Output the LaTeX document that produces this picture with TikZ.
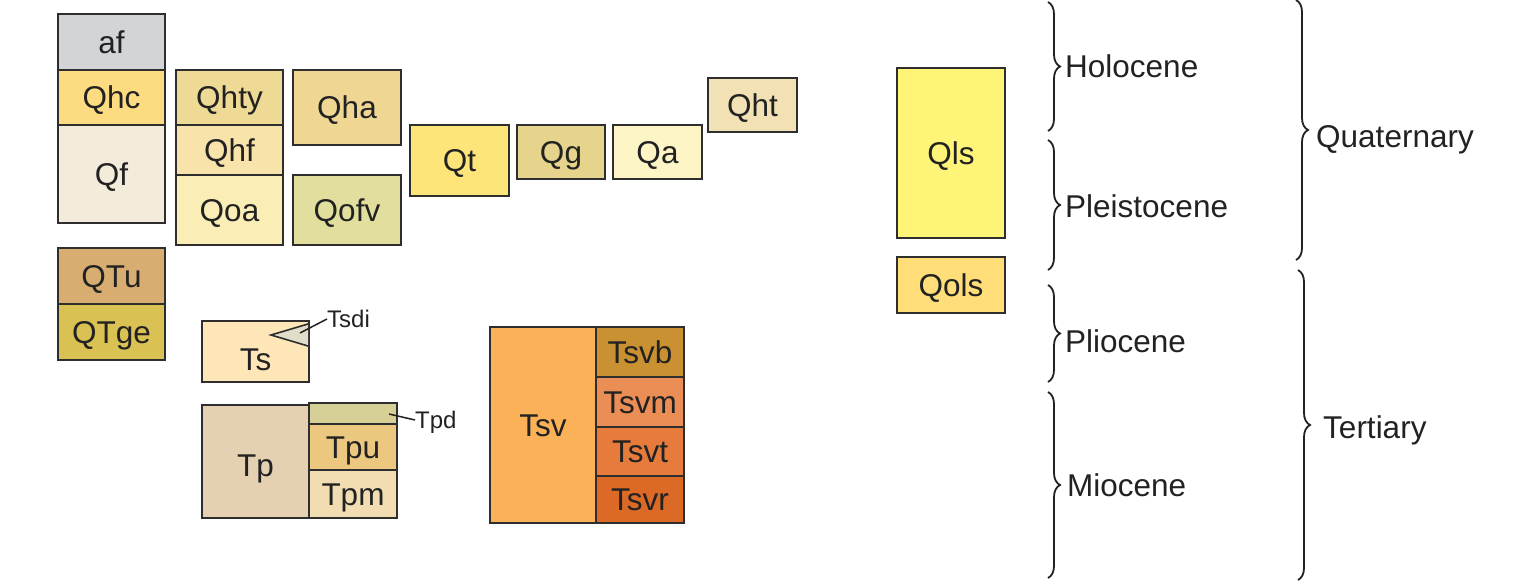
\documentclass[tikz,border=0pt]{standalone}
\usepackage{fontspec}
\setmainfont{Liberation Sans}
\usetikzlibrary{decorations.pathreplacing}
\definecolor{ink}{HTML}{222222}
\definecolor{edge}{HTML}{2E2E2E}
\definecolor{cAf}{HTML}{D3D4D6}
\definecolor{cQhc}{HTML}{FDDB80}
\definecolor{cQf}{HTML}{F3ECDA}
\definecolor{cQhty}{HTML}{EEDA94}
\definecolor{cQhf}{HTML}{F8E3AA}
\definecolor{cQoa}{HTML}{FAEDB5}
\definecolor{cQha}{HTML}{EFD793}
\definecolor{cQofv}{HTML}{E2DF9E}
\definecolor{cQt}{HTML}{FDE57A}
\definecolor{cQg}{HTML}{E6D48C}
\definecolor{cQa}{HTML}{FDF5C5}
\definecolor{cQht}{HTML}{F2E1B5}
\definecolor{cQls}{HTML}{FEF478}
\definecolor{cQols}{HTML}{FFDD78}
\definecolor{cQTu}{HTML}{D7AD72}
\definecolor{cQTge}{HTML}{D9C153}
\definecolor{cTs}{HTML}{FEE6B8}
\definecolor{cTsdi}{HTML}{E0DDC8}
\definecolor{cTp}{HTML}{E6D0B2}
\definecolor{cTpd}{HTML}{D7D096}
\definecolor{cTpu}{HTML}{ECC77F}
\definecolor{cTpm}{HTML}{F2DDB3}
\definecolor{cTsv}{HTML}{FBB157}
\definecolor{cTsvb}{HTML}{C99132}
\definecolor{cTsvm}{HTML}{EB8E55}
\definecolor{cTsvt}{HTML}{E67B3C}
\definecolor{cTsvr}{HTML}{DC6926}
\tikzset{
  unit box/.style={draw=edge, line width=1.7pt, inner sep=0pt, outer sep=0pt,
    rectangle, text=ink,
    font=\fontsize{31.5}{37}\selectfont, text height=22.5pt, text depth=0pt},
  small lab/.style={inner sep=0pt, text=ink, anchor=west,
    font=\fontsize{24}{28}\selectfont, text height=17pt, text depth=0pt},
  era lab/.style={inner sep=0pt, text=ink, anchor=west,
    font=\fontsize{31.5}{37}\selectfont, text height=22.5pt, text depth=0pt},
  leader/.style={draw=ink, line width=1.5pt},
  curly/.style={draw=ink, line width=1.8pt,
    decorate, decoration={brace, amplitude=12pt}},
}
% [opts]{x1}{y1}{x2}{y2}{name}{colour}{text}
\newcommand\ubox[8][]{%
  \pgfmathsetmacro\ubw{#4-#2}\pgfmathsetmacro\ubh{#5-#3}%
  \pgfmathsetmacro\ubx{(#2+#4)/2}\pgfmathsetmacro\uby{(#3+#5)/2}%
  \node[unit box, fill=#7, minimum width=\ubw pt, minimum height=\ubh pt, #1]
    (#6) at (\ubx,\uby) {#8};}
\begin{document}
\begin{tikzpicture}[x=1pt, y=-1pt]
\useasboundingbox (0,0) rectangle (1519,588);
% column 1
\ubox{58}{14}{165}{70}{af}{cAf}{af}
\ubox{58}{70}{165}{125}{Qhc}{cQhc}{Qhc}
\ubox{58}{125}{165}{223}{Qf}{cQf}{Qf}
% column 2
\ubox{176}{70}{283}{125}{Qhty}{cQhty}{Qhty}
\ubox{176}{125}{283}{175}{Qhf}{cQhf}{Qhf}
\ubox{176}{175}{283}{245}{Qoa}{cQoa}{Qoa}
% column 3
\ubox{293}{70}{401}{145}{Qha}{cQha}{Qha}
\ubox{293}{175}{401}{245}{Qofv}{cQofv}{Qofv}
% row
\ubox{410}{125}{509}{196}{Qt}{cQt}{Qt}
\ubox{517}{125}{605}{179}{Qg}{cQg}{Qg}
\ubox{613}{125}{702}{179}{Qa}{cQa}{Qa}
\ubox{708}{78}{797}{132}{Qht}{cQht}{Qht}
% landslides
\ubox{897}{68}{1005}{238}{Qls}{cQls}{Qls}
\ubox{897}{257}{1005}{313}{Qols}{cQols}{Qols}
% QT
\ubox{58}{248}{165}{304}{QTu}{cQTu}{QTu}
\ubox{58}{304}{165}{360}{QTge}{cQTge}{QTge}
% Ts with Tsdi
\ubox[text height=38pt]{202}{321}{309}{382}{Ts}{cTs}{Ts}
\filldraw[fill=cTsdi, draw=edge, line width=1.6pt, line join=miter]
  (308,324) -- (271,335) -- (308,346);
\coordinate (tsdiA) at (300,333);
\node[small lab] (Tsdi) at (327,319) {Tsdi};
\draw[leader] (tsdiA) -- (Tsdi.west);
% Tp group
\ubox[text height=29pt]{202}{405}{309}{518}{Tp}{cTp}{Tp}
\ubox{309}{405}{397}{424}{Tpd}{cTpd}{}
\ubox{309}{424}{397}{470}{Tpu}{cTpu}{Tpu}
\ubox{309}{470}{397}{518}{Tpm}{cTpm}{Tpm}
\coordinate (tpdA) at (389,414);
\node[small lab] (Tpdlab) at (415,420) {Tpd};
\draw[leader] (tpdA) -- (Tpdlab.west);
% Tsv group
\ubox{490}{327}{596}{523}{Tsv}{cTsv}{Tsv}
\ubox{596}{327}{684}{377}{Tsvb}{cTsvb}{Tsvb}
\ubox{596}{377}{684}{427}{Tsvm}{cTsvm}{Tsvm}
\ubox{596}{427}{684}{476}{Tsvt}{cTsvt}{Tsvt}
\ubox{596}{476}{684}{523}{Tsvr}{cTsvr}{Tsvr}
% braces: epochs
\coordinate (hT) at (1048,2);   \coordinate (hB) at (1048,131);
\coordinate (pT) at (1048,140); \coordinate (pB) at (1048,270);
\coordinate (plT) at (1048,285); \coordinate (plB) at (1048,382);
\coordinate (mT) at (1048,392); \coordinate (mB) at (1048,578);
\draw[curly] (hT) -- (hB);
\draw[curly] (pT) -- (pB);
\draw[curly] (plT) -- (plB);
\draw[curly] (mT) -- (mB);
% braces: periods
\coordinate (qT) at (1296,0);   \coordinate (qB) at (1296,260);
\coordinate (tT) at (1298,270); \coordinate (tB) at (1298,580);
\draw[curly] (qT) -- (qB);
\draw[curly] (tT) -- (tB);
% labels
\node[era lab] (Holocene)    at (1065,66)  {Holocene};
\node[era lab] (Pleistocene) at (1065,206) {Pleistocene};
\node[era lab] (Pliocene)    at (1065,341) {Pliocene};
\node[era lab] (Miocene)     at (1067,485) {Miocene};
\node[era lab] (Quaternary)  at (1316,136) {Quaternary};
\node[era lab] (Tertiary)    at (1323,427) {Tertiary};
\end{tikzpicture}
\end{document}
